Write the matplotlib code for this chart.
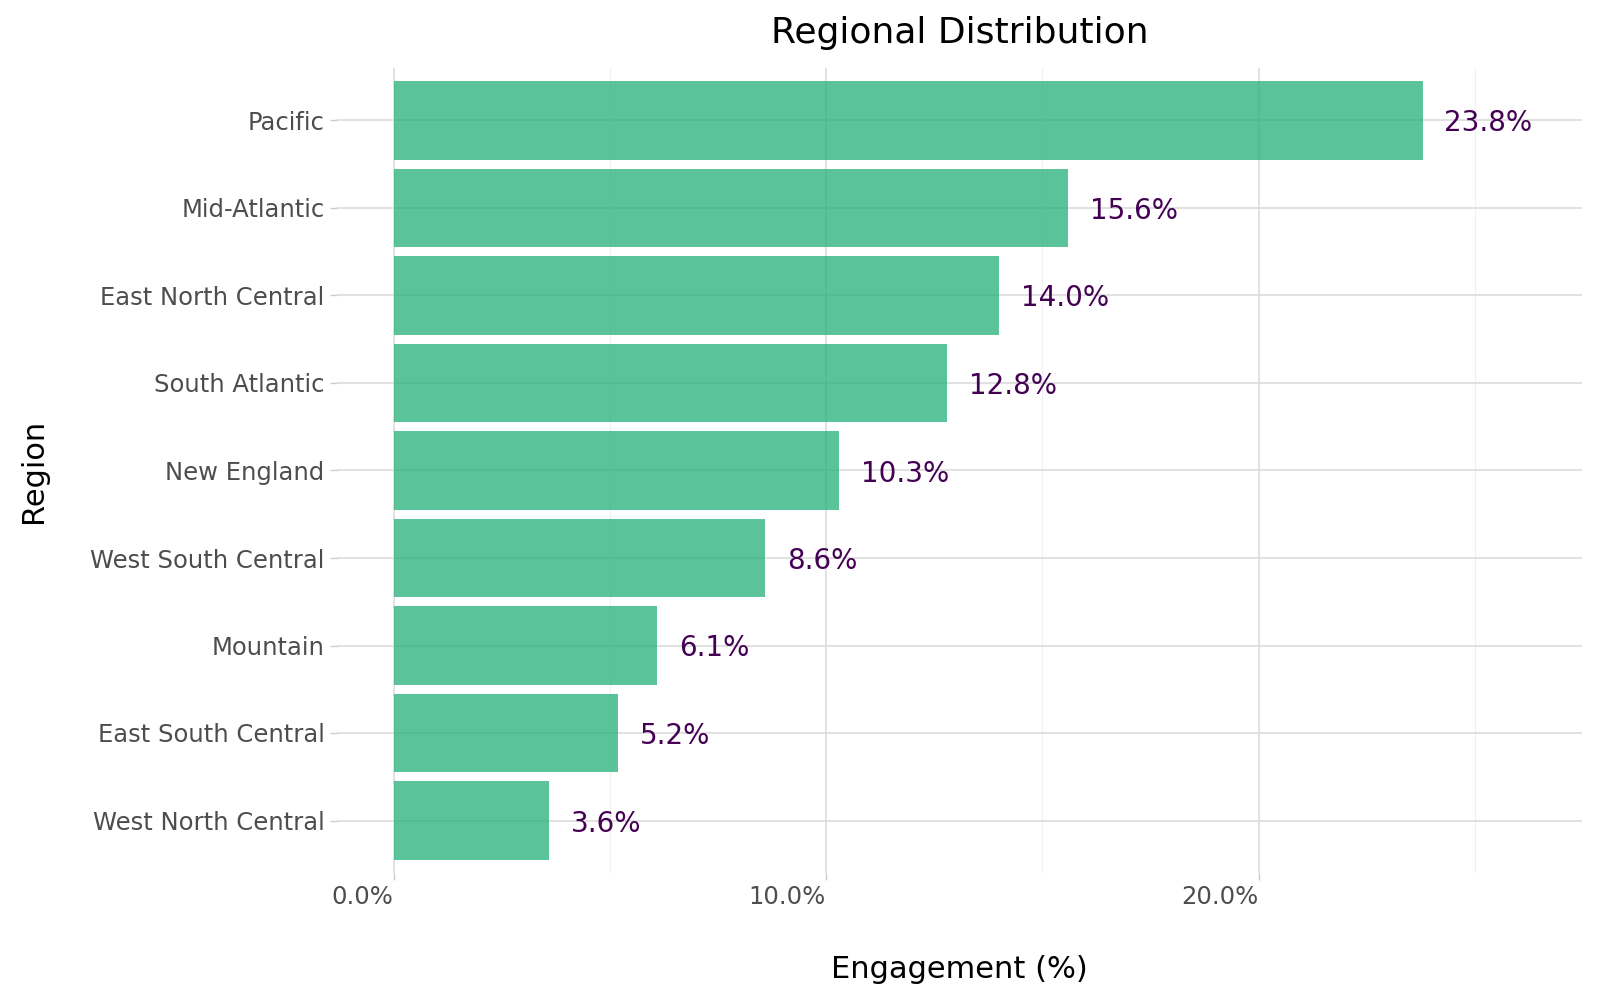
import matplotlib
matplotlib.use('Agg')
import matplotlib.pyplot as plt
from matplotlib.ticker import FuncFormatter, MultipleLocator

regions = ['Pacific', 'Mid-Atlantic', 'East North Central', 'South Atlantic',
           'New England', 'West South Central', 'Mountain',
           'East South Central', 'West North Central']
engagement = [23.8, 15.6, 14.0, 12.8, 10.3, 8.6, 6.1, 5.2, 3.6]

fig = plt.figure(figsize=(16, 10), dpi=100)
ax = fig.add_axes([0.2106, 0.127, 0.989 - 0.2106, 0.932 - 0.127])

# reversed so Pacific sits at the top
ypos = list(range(len(regions), 0, -1))
ax.barh(ypos, engagement, height=0.9, color='#2db27d', alpha=0.78, zorder=2)

for y, v in zip(ypos, engagement):
    ax.text(v + 0.5, y, f'{v:.1f}%', ha='left', va='center_baseline',
            fontsize=20, color='#440154', zorder=3)

top = max(engagement) * 1.1
ax.set_xlim(-0.05 * top, top * 1.05)
ax.set_ylim(0.4, len(regions) + 0.6)

ax.set_yticks(ypos)
ax.set_yticklabels(regions)
ax.xaxis.set_major_locator(MultipleLocator(10))
ax.xaxis.set_minor_locator(MultipleLocator(5))
ax.xaxis.set_major_formatter(FuncFormatter(lambda x, p: f'{x:.1f}%'))
for lab in ax.get_xticklabels():
    lab.set_ha('right')

ax.grid(which='major', axis='both', color='#dcdcdc', linewidth=1.2, zorder=0)
ax.grid(which='minor', axis='x', color='#f0f0f0', linewidth=0.8, zorder=0)
ax.set_axisbelow(True)
for s in ax.spines.values():
    s.set_visible(False)

ax.tick_params(axis='both', which='major', length=5, width=1.0, color='#cccccc',
               labelsize=17.5, labelcolor='#4d4d4d', pad=4)
ax.tick_params(axis='x', which='minor', length=0)

ax.set_title('Regional Distribution', fontsize=26, pad=18)
ax.set_xlabel('Engagement (%)', fontsize=22, labelpad=33)
ax.set_ylabel('Region', fontsize=22, labelpad=30)

fig.savefig('out.png', dpi=100)
